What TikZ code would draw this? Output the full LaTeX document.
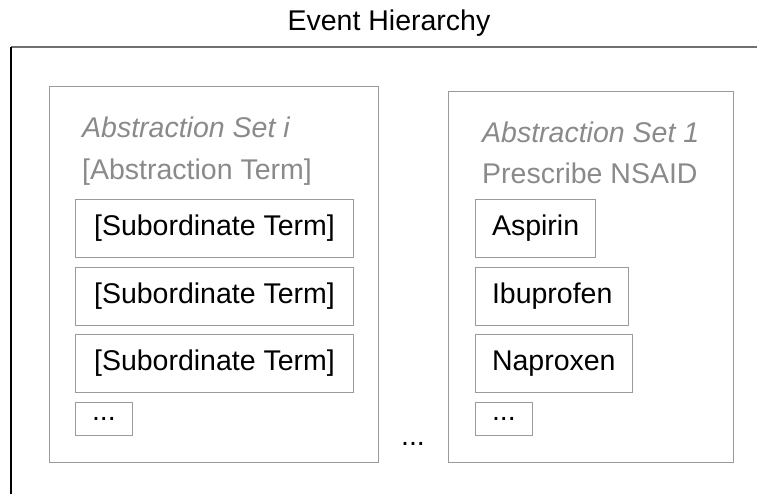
\documentclass[tikz,border=0pt]{standalone}
\usepackage{fontspec}
\setmainfont{Liberation Sans}
\definecolor{boxgray}{HTML}{9A9A9A}
\definecolor{labelgray}{HTML}{8A8A8A}
\definecolor{framegray}{HTML}{707070}
\tikzset{
  setbox/.style={draw=boxgray, line width=1pt, inner sep=0pt, anchor=north west},
  termbox/.style={draw=boxgray, line width=1pt, inner xsep=16.5pt, inner ysep=0pt,
    minimum height=58pt, anchor=north west, text=black},
  dotsbox/.style={draw=boxgray, line width=1pt, inner xsep=16.5pt, inner ysep=0pt,
    minimum height=33pt, anchor=north west, text=black},
  setlabel/.style={anchor=base west, inner sep=0pt, text=labelgray},
  plain/.style={inner sep=0pt, text=black},
}
\begin{document}
\begin{tikzpicture}[x=1pt, y=-1pt, font=\fontsize{28.5}{34}\selectfont]
\useasboundingbox (0,0) rectangle (757,494);

% outer frame: open on the right and at the bottom
\coordinate (frameTL) at (11,47);
\coordinate (frameTR) at (757,47);
\coordinate (frameBL) at (11,494);
\draw[framegray, line width=1.4pt] (frameTR) -- (frameTL);
\draw[black, line width=1.4pt] (frameTL) -- (frameBL);

\node[plain, anchor=base] (title) at (389,31) {Event Hierarchy};

% generic abstraction set
\node[setbox, minimum width=329pt, minimum height=376pt] (seti) at (49,86) {};
\node[setlabel] (seti-name) at (82,138) {\itshape Abstraction Set i};
\node[setlabel] (seti-term) at (82,180) {[Abstraction Term]};
\node[termbox, minimum width=278pt] (sub1) at (75,199) {[Subordinate Term]};
\node[termbox, minimum width=278pt] (sub2) at (75,267) {[Subordinate Term]};
\node[termbox, minimum width=278pt] (sub3) at (75,334) {[Subordinate Term]};
\node[dotsbox, minimum width=56pt] (subdots) at (75,402) {...};

% gap between sets
\node[plain, anchor=base] (between) at (413,445) {...};

% concrete abstraction set
\node[setbox, minimum width=285pt, minimum height=371pt] (set1) at (448,91) {};
\node[setlabel] (set1-name) at (482,143) {\itshape Abstraction Set 1};
\node[setlabel] (set1-term) at (482,184) {Prescribe NSAID};
\node[termbox] (aspirin) at (475,199) {Aspirin};
\node[termbox] (ibuprofen) at (475,267) {Ibuprofen};
\node[termbox] (naproxen) at (475,334) {Naproxen};
\node[dotsbox] (drugdots) at (475,402) {...};
\end{tikzpicture}
\end{document}
